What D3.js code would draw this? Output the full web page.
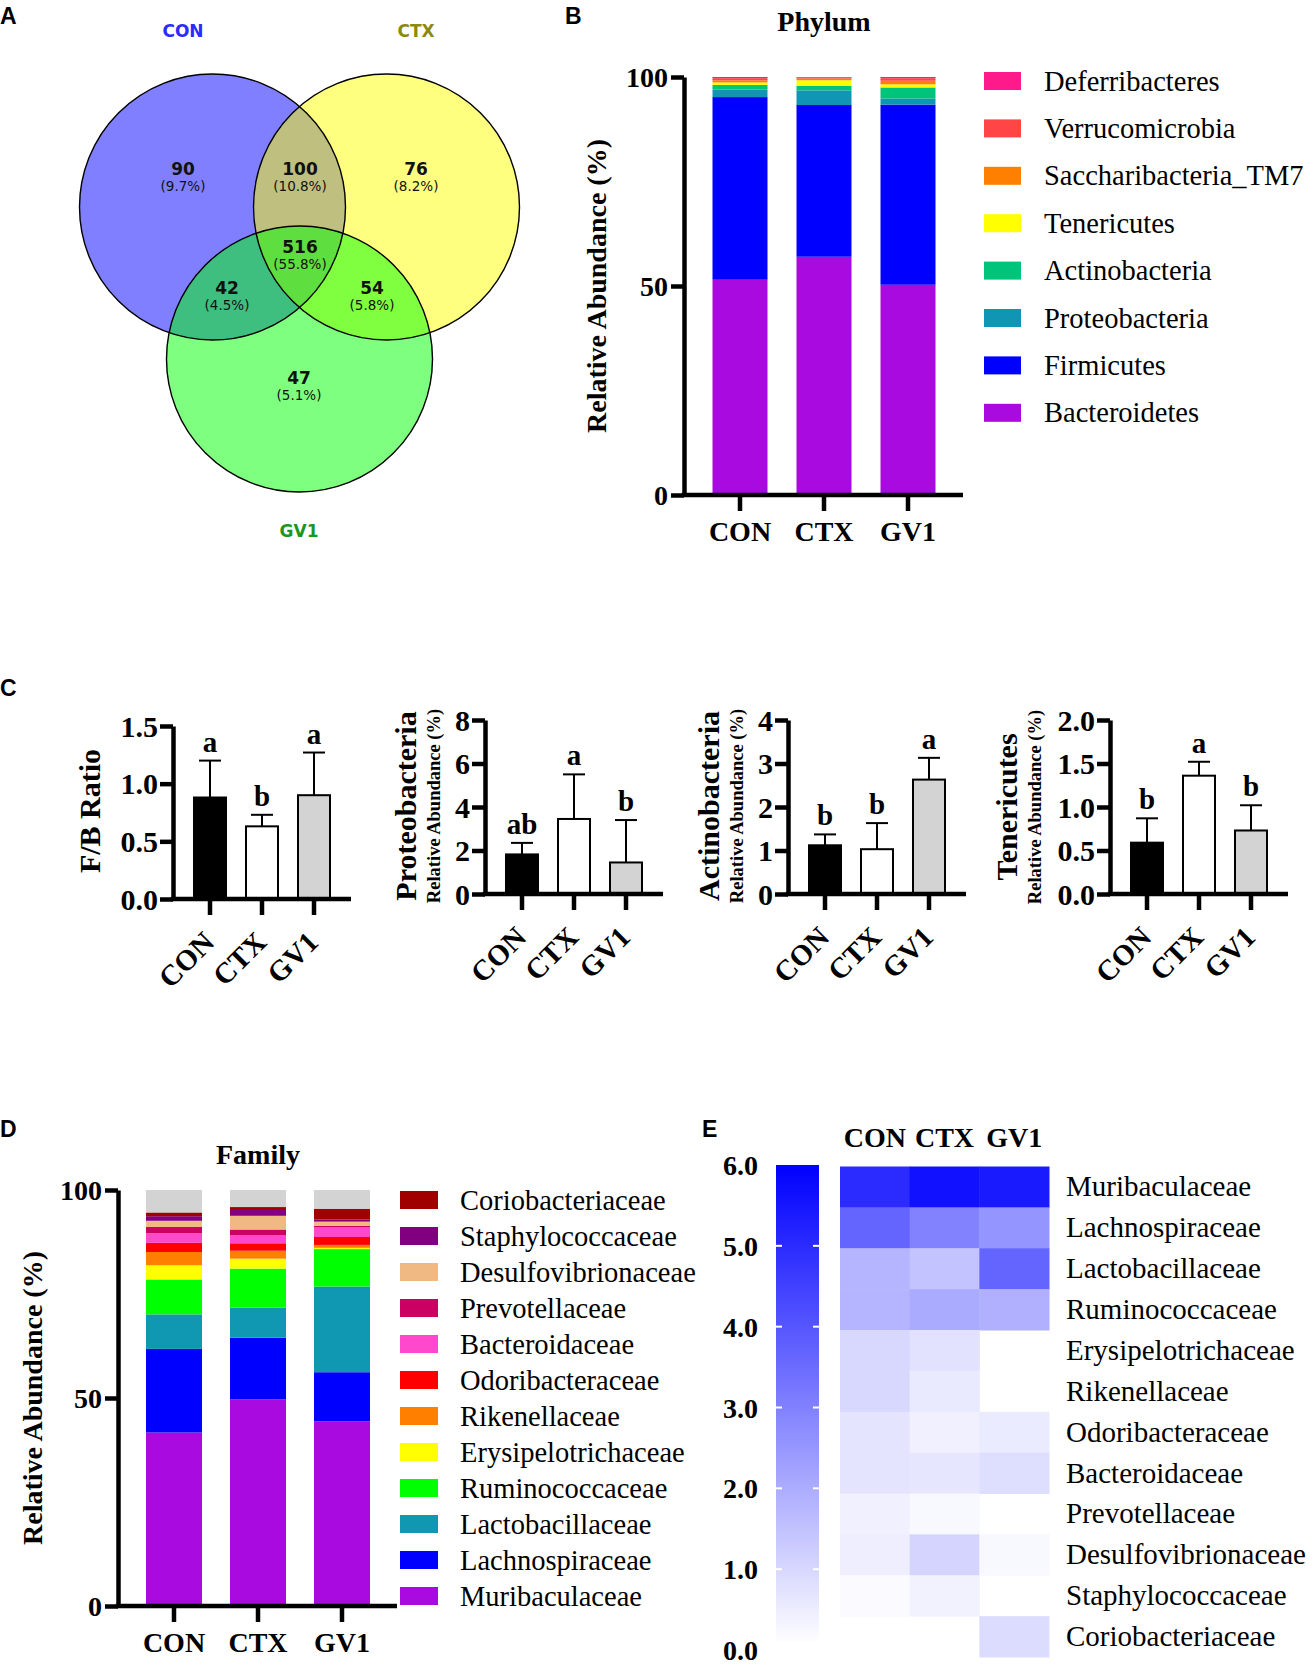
<!DOCTYPE html>
<html><head><meta charset="utf-8">
<script src="https://cdn.jsdelivr.net/npm/d3@7"></script>
<style>body{margin:0;background:#fff} svg{display:block}</style>
</head><body>
<svg id="fig" width="1314" height="1667"></svg>
<script>
// ---------------- DATA ----------------
const groups = ["CON", "CTX", "GV1"];

// Venn (A): regions in order CON only, CON∩CTX, CTX only, CON∩GV1, all, CTX∩GV1, GV1 only
const vennRegions = ["CON", "CON&CTX", "CTX", "CON&GV1", "CON&CTX&GV1", "CTX&GV1", "GV1"];
const vennCounts = [90, 100, 76, 42, 516, 54, 47];
const vennPercents = ["(9.7%)", "(10.8%)", "(8.2%)", "(4.5%)", "(55.8%)", "(5.8%)", "(5.1%)"];

// Phylum (B), bottom to top
const phyla = ["Bacteroidetes", "Firmicutes", "Proteobacteria", "Actinobacteria", "Tenericutes", "Saccharibacteria_TM7", "Verrucomicrobia", "Deferribacteres"];
const phylumColors = ["#a90ae0", "#0000ff", "#1096b4", "#00c47a", "#ffff00", "#ff8000", "#ff4545", "#ff1a8c"];
const phylumCON = [51.5, 43.7, 1.8, 1.1, 0.6, 0.5, 0.5, 0.3];
const phylumCTX = [57.0, 36.3, 3.5, 1.05, 1.38, 0.4, 0.2, 0.17];
const phylumGV1 = [50.3, 43.1, 1.45, 2.65, 0.75, 0.85, 0.6, 0.3];
const pctTicks = [0, 50, 100];

// C panels: mean and SD (upper whisker) per group
const fbMean = [0.88, 0.63, 0.90], fbSD = [0.32, 0.10, 0.37], fbLetters = ["a", "b", "a"];
const fbTicks = [0, 0.5, 1.0, 1.5];
const proMean = [1.82, 3.45, 1.45], proSD = [0.53, 2.05, 1.95], proLetters = ["ab", "a", "b"];
const proTicks = [0, 2, 4, 6, 8];
const actMean = [1.12, 1.03, 2.63], actSD = [0.25, 0.60, 0.50], actLetters = ["b", "b", "a"];
const actTicks = [0, 1, 2, 3, 4];
const tenMean = [0.59, 1.36, 0.73], tenSD = [0.28, 0.16, 0.29], tenLetters = ["b", "a", "b"];
const tenTicks = [0, 0.5, 1.0, 1.5, 2.0];

// Family (D), bottom to top, plus "others" in grey
const families = ["Muribaculaceae", "Lachnospiraceae", "Lactobacillaceae", "Ruminococcaceae", "Erysipelotrichaceae", "Rikenellaceae", "Odoribacteraceae", "Bacteroidaceae", "Prevotellaceae", "Desulfovibrionaceae", "Staphylococcaceae", "Coriobacteriaceae"];
const familyColors = ["#a90ae0", "#0000ff", "#1098b2", "#00ff00", "#ffff00", "#ff8000", "#ff0000", "#ff48cc", "#cc0062", "#f0b882", "#800080", "#a00000"];
const familyCON = [41.7, 20.1, 8.3, 8.4, 3.4, 3.2, 2.2, 2.3, 1.5, 1.5, 1.1, 0.9];
const familyCTX = [49.7, 14.8, 7.2, 9.4, 2.4, 1.9, 1.8, 1.9, 1.4, 3.3, 1.4, 0.7];
const familyGV1 = [44.4, 11.8, 20.6, 9.0, 0.3, 0.7, 1.9, 2.4, 0.3, 1.0, 0.5, 2.6];
const familyOthers = [5.4, 4.1, 4.5];

// Heatmap (E), rows top to bottom
const heatRows = ["Muribaculaceae", "Lachnospiraceae", "Lactobacillaceae", "Ruminococcaceae", "Erysipelotrichaceae", "Rikenellaceae", "Odoribacteraceae", "Bacteroidaceae", "Prevotellaceae", "Desulfovibrionaceae", "Staphylococcaceae", "Coriobacteriaceae"];
const heatCON = [5.0, 3.65, 1.76, 1.76, 0.92, 0.92, 0.64, 0.64, 0.35, 0.40, 0.12, null];
const heatCTX = [5.6, 2.94, 1.41, 2.0, 0.68, 0.49, 0.35, 0.59, 0.16, 1.01, 0.31, null];
const heatGV1 = [5.4, 2.49, 3.65, 1.86, null, null, 0.47, 0.78, null, 0.16, null, 0.82];
const heatTicks = [0, 1, 2, 3, 4, 5, 6];

// ---------------- DRAWING ----------------
const svg = d3.select("#fig");
const SERIF = "'Liberation Serif','Times New Roman',serif";
const SANS = "'Liberation Sans',Arial,sans-serif";
const VSANS = "'DejaVu Sans',Verdana,sans-serif";
const AXW = 4.5;

function txt(g, x, y, s, o = {}) {
  return g.append("text").attr("x", x).attr("y", y).text(s)
    .attr("font-family", o.ff || SERIF).attr("font-size", o.fs || 28)
    .attr("font-weight", o.fw || "bold").attr("fill", o.fill || "#000")
    .attr("text-anchor", o.anchor || "start");
}

// panel letters
[["A", 0, 24], ["B", 565, 24], ["C", 0, 696], ["D", 0, 1137], ["E", 702, 1137]].forEach(d =>
  txt(svg, d[1], d[2], d[0], { ff: SANS, fs: 23 }));

// ---------- A: Venn ----------
(function () {
  const g = svg.append("g");
  const r = 133;
  const circles = [
    { name: "CON", cx: 212.5, cy: 207, color: "#0000ff", lab: "#2b2bff", lx: 183, ly: 37 },
    { name: "CTX", cx: 386.5, cy: 207, color: "#ffff00", lab: "#8a8a10", lx: 416, ly: 37 },
    { name: "GV1", cx: 299.5, cy: 359, color: "#00ff00", lab: "#1c961c", lx: 299, ly: 537 }
  ];
  g.selectAll("circle.f").data(circles).join("circle").attr("class", "f")
    .attr("cx", d => d.cx).attr("cy", d => d.cy).attr("r", r)
    .attr("fill", d => d.color).attr("fill-opacity", 0.5);
  g.selectAll("circle.s").data(circles).join("circle").attr("class", "s")
    .attr("cx", d => d.cx).attr("cy", d => d.cy).attr("r", r)
    .attr("fill", "none").attr("stroke", "#000").attr("stroke-width", 1.4);
  circles.forEach(c => txt(g, c.lx, c.ly, c.name, { ff: VSANS, fs: 17, fill: c.lab, anchor: "middle" }));
  const pos = { "CON": [183, 169], "CON&CTX": [300, 169], "CTX": [416, 169], "CON&GV1": [227, 288],
    "CON&CTX&GV1": [300, 247], "CTX&GV1": [372, 288], "GV1": [299, 378] };
  vennRegions.forEach((k, i) => {
    const p = pos[k];
    txt(g, p[0], p[1] + 6, vennCounts[i], { ff: VSANS, fs: 17, anchor: "middle", fill: "#111" });
    txt(g, p[0], p[1] + 22, vennPercents[i], { ff: VSANS, fs: 13.5, fw: "normal", anchor: "middle", fill: "#111" });
  });
})();

// ---------- stacked bar helper ----------
function stackedPanel(o) {
  const g = svg.append("g");
  const y = d3.scaleLinear().domain([0, 100]).range([o.y0, o.y1]);
  const x = d3.scalePoint().domain(groups).range([o.ax + 56, o.ax + 224]);
  const rows = groups.map((gr, i) => {
    const r = { group: gr };
    o.keys.forEach((k, j) => r[k] = o.series[i][j]);
    return r;
  });
  const st = d3.stack().keys(o.keys)(rows);
  st.forEach((layer, j) => {
    g.selectAll(null).data(layer).join("rect")
      .attr("x", d => x(d.data.group) - o.bw / 2).attr("width", o.bw)
      .attr("y", d => y(d[1])).attr("height", d => Math.max(0, y(d[0]) - y(d[1])))
      .attr("fill", o.colors[j]);
  });
  // axes
  const ya = d3.axisLeft(y).tickValues(pctTicks).tickSize(13).tickSizeOuter(0).tickPadding(3);
  const ga = g.append("g").attr("transform", `translate(${o.ax},0)`).call(ya);
  ga.select(".domain").attr("stroke-width", AXW);
  ga.selectAll(".tick line").attr("stroke-width", AXW);
  ga.selectAll(".tick text").attr("font-family", SERIF).attr("font-size", 28).attr("font-weight", "bold").attr("fill", "#000").attr("dy", "0.34em");
  g.append("line").attr("x1", o.ax - AXW / 2).attr("x2", o.ax + 279).attr("y1", o.y0).attr("y2", o.y0)
    .attr("stroke", "#000").attr("stroke-width", AXW);
  groups.forEach(gr => {
    g.append("line").attr("x1", x(gr)).attr("x2", x(gr)).attr("y1", o.y0).attr("y2", o.y0 + 16)
      .attr("stroke", "#000").attr("stroke-width", AXW);
    txt(g, x(gr), o.y0 + 46, gr, { anchor: "middle" });
  });
  txt(g, 0, 0, "Relative Abundance (%)", { anchor: "middle" })
    .attr("transform", `translate(${o.ytx},${(o.y0 + o.y1) / 2}) rotate(-90)`);
  txt(g, o.ax + 140, o.ty, o.title, { anchor: "middle" });
  // legend (only the named series, top entry = last stacked)
  const n = o.legendN;
  const legKeys = o.keys.slice(0, n).reverse();
  const legCols = o.colors.slice(0, n).reverse();
  legKeys.forEach((k, i) => {
    const cy = o.ly0 + i * o.lstep;
    g.append("rect").attr("x", o.lx).attr("y", cy - 9).attr("width", o.lw).attr("height", 18).attr("fill", legCols[i]);
    txt(g, o.lx + 60, cy + 9.5, k, { fw: "normal", fs: o.lfs });
  });
}

stackedPanel({ ax: 684, y0: 495, y1: 77, bw: 55, keys: phyla, colors: phylumColors, legendN: phyla.length,
  series: [phylumCON, phylumCTX, phylumGV1], ytx: 606, title: "Phylum", ty: 31,
  lx: 984, lw: 37, ly0: 81, lstep: 47.4, lfs: 28.5 });

stackedPanel({ ax: 118, y0: 1606, y1: 1190, bw: 56, keys: families.concat(["Others"]), legendN: families.length,
  colors: familyColors.concat(["#d3d3d3"]),
  series: [familyCON.concat([familyOthers[0]]), familyCTX.concat([familyOthers[1]]), familyGV1.concat([familyOthers[2]])],
  ytx: 42, title: "Family", ty: 1164, lx: 400, lw: 38, ly0: 1200, lstep: 36.0, lfs: 28.5 });

// ---------- C: bar panels ----------
function barPanel(o) {
  const g = svg.append("g");
  const y = d3.scaleLinear().domain([0, o.max]).range([o.yb, o.yt]);
  const x = d3.scalePoint().domain(groups).range([o.ax + 37, o.ax + 141]);
  const fills = ["#000000", "#ffffff", "#d3d3d3"];
  const bw = 34;
  const data = groups.map((gr, i) => ({ gr, m: o.mean[i], sd: o.sd[i], l: o.letters[i], f: fills[i] }));
  // error bars (upper)
  data.forEach(d => {
    g.append("line").attr("x1", x(d.gr)).attr("x2", x(d.gr)).attr("y1", y(d.m)).attr("y2", y(d.m + d.sd))
      .attr("stroke", "#000").attr("stroke-width", 2);
    g.append("line").attr("x1", x(d.gr) - 11).attr("x2", x(d.gr) + 11).attr("y1", y(d.m + d.sd)).attr("y2", y(d.m + d.sd))
      .attr("stroke", "#000").attr("stroke-width", 2);
    txt(g, x(d.gr), y(d.m + d.sd) - 9, d.l, { anchor: "middle", fs: 29 });
  });
  g.selectAll(null).data(data).join("rect")
    .attr("x", d => x(d.gr) - bw / 2 + 1).attr("width", bw - 2)
    .attr("y", d => y(d.m)).attr("height", d => y(0) - y(d.m))
    .attr("fill", d => d.f).attr("stroke", "#000").attr("stroke-width", 2);
  const ya = d3.axisLeft(y).tickValues(o.ticks).tickFormat(o.fmt).tickSize(13).tickSizeOuter(0).tickPadding(2);
  const ga = g.append("g").attr("transform", `translate(${o.ax},0)`).call(ya);
  ga.select(".domain").attr("stroke-width", AXW);
  ga.selectAll(".tick line").attr("stroke-width", AXW);
  ga.selectAll(".tick text").attr("font-family", SERIF).attr("font-size", 30).attr("font-weight", "bold").attr("fill", "#000").attr("dy", "0.34em");
  g.append("line").attr("x1", o.ax - AXW / 2).attr("x2", o.ax + 178).attr("y1", o.yb).attr("y2", o.yb)
    .attr("stroke", "#000").attr("stroke-width", AXW);
  groups.forEach(gr => {
    g.append("line").attr("x1", x(gr)).attr("x2", x(gr)).attr("y1", o.yb).attr("y2", o.yb + 16)
      .attr("stroke", "#000").attr("stroke-width", AXW);
    txt(g, 0, 0, gr, { anchor: "end", fs: 29 })
      .attr("transform", `translate(${x(gr) + 6},${o.yb + 45}) rotate(-45)`);
  });
  txt(g, 0, 0, o.title, { anchor: "middle", fs: 30 })
    .attr("transform", `translate(${o.tx},${o.tcy}) rotate(-90)`);
  if (o.sub) txt(g, 0, 0, "Relative Abundance (%)", { anchor: "middle", fs: 18.5 })
    .attr("transform", `translate(${o.tx + 24},${o.tcy}) rotate(-90)`);
}
const f1 = d3.format(".1f"), f0 = d3.format("d");
barPanel({ ax: 173, yt: 726, yb: 899, max: 1.5, ticks: fbTicks, fmt: f1, mean: fbMean, sd: fbSD, letters: fbLetters,
  title: "F/B Ratio", tx: 100, tcy: 811, sub: false });
barPanel({ ax: 485, yt: 720, yb: 894, max: 8, ticks: proTicks, fmt: f0, mean: proMean, sd: proSD, letters: proLetters,
  title: "Proteobacteria", tx: 416, tcy: 806, sub: true });
barPanel({ ax: 788, yt: 720, yb: 894, max: 4, ticks: actTicks, fmt: f0, mean: actMean, sd: actSD, letters: actLetters,
  title: "Actinobacteria", tx: 719, tcy: 806, sub: true });
barPanel({ ax: 1110, yt: 720, yb: 894, max: 2, ticks: tenTicks, fmt: f1, mean: tenMean, sd: tenSD, letters: tenLetters,
  title: "Tenericutes", tx: 1017, tcy: 807, sub: true });

// ---------- E: heatmap ----------
(function () {
  const g = svg.append("g");
  const x = d3.scaleBand().domain(groups).range([840, 1049]);
  const y = d3.scaleBand().domain(heatRows).range([1166.5, 1657]);
  const col = d3.scaleLinear().domain([0, 6]).range(["#ffffff", "#0000ff"]);
  const cols = [heatCON, heatCTX, heatGV1];
  const cells = [];
  heatRows.forEach((r, i) => groups.forEach((gr, j) => {
    if (cols[j][i] !== null) cells.push({ r, gr, v: cols[j][i] });
  }));
  g.selectAll(null).data(cells).join("rect")
    .attr("x", d => x(d.gr)).attr("y", d => y(d.r))
    .attr("width", x.bandwidth() + 0.5).attr("height", y.bandwidth() + 0.5)
    .attr("fill", d => col(d.v));
  groups.forEach(gr => txt(g, x(gr) + x.bandwidth() / 2, 1147, gr, { anchor: "middle" }));
  heatRows.forEach(r => txt(g, 1066, y(r) + y.bandwidth() / 2 + 9.5, r, { fw: "normal", fs: 29 }));
  // colorbar
  const cy = d3.scaleLinear().domain([0, 6]).range([1650, 1165]);
  const defs = svg.append("defs");
  const grad = defs.append("linearGradient").attr("id", "cb").attr("x1", 0).attr("x2", 0).attr("y1", 1).attr("y2", 0);
  grad.append("stop").attr("offset", 0).attr("stop-color", col(0));
  grad.append("stop").attr("offset", 1).attr("stop-color", col(6));
  g.append("rect").attr("x", 776).attr("width", 43).attr("y", cy(6)).attr("height", cy(0) - cy(6) - 6).attr("fill", "url(#cb)");
  heatTicks.forEach(t => {
    if (t > 0 && t < 6) {
      g.append("line").attr("x1", 776).attr("x2", 782).attr("y1", cy(t)).attr("y2", cy(t)).attr("stroke", "#fff").attr("stroke-width", 2);
      g.append("line").attr("x1", 813).attr("x2", 819).attr("y1", cy(t)).attr("y2", cy(t)).attr("stroke", "#fff").attr("stroke-width", 2);
    }
    txt(g, 758, cy(t) + 10, f1(t), { anchor: "end", fs: 28 });
  });
})();
</script>
</body></html>
